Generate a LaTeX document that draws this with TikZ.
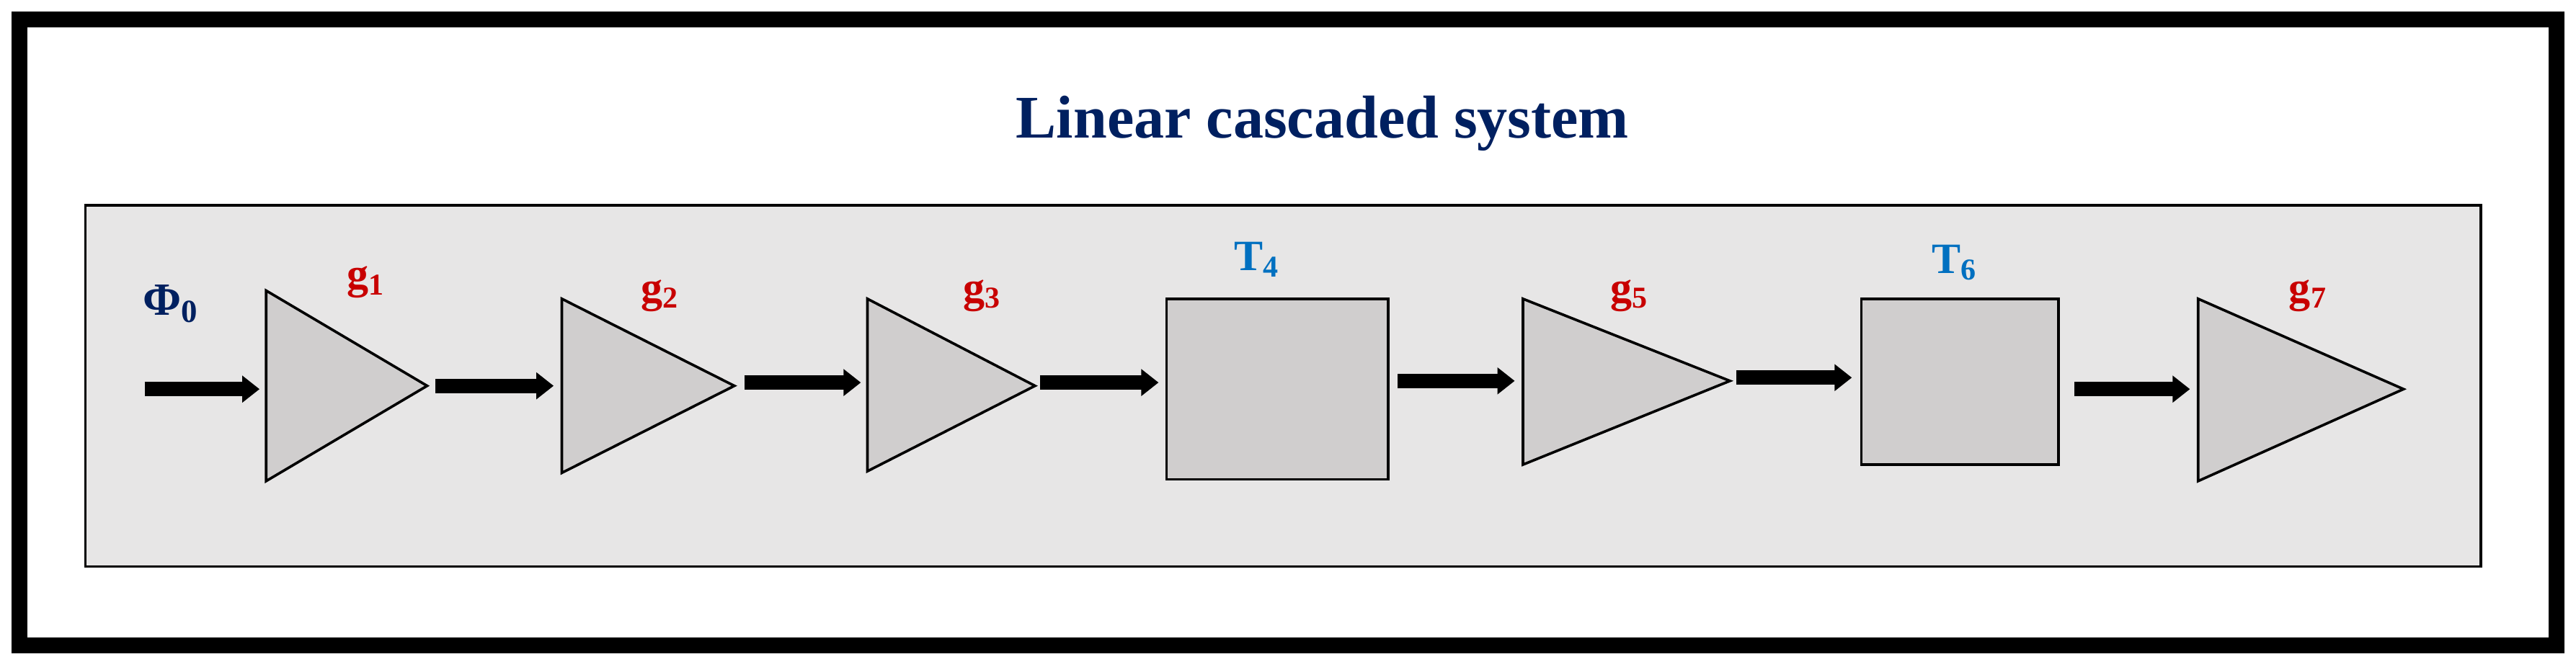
\documentclass[tikz,border=0pt]{standalone}
\usepackage{fontspec}
\setmainfont{Liberation Serif}
\usetikzlibrary{arrows.meta}
\definecolor{navy}{RGB}{0,32,96}
\definecolor{gred}{RGB}{200,0,0}
\definecolor{tblue}{RGB}{0,112,192}
\definecolor{bgray}{RGB}{231,230,230}
\definecolor{tgray}{RGB}{208,206,206}
\begin{document}
\begin{tikzpicture}[x=0.02cm,y=-0.02cm,
  amp/.style={fill=tgray,draw=black,line width=0.9pt,line join=miter},
  blk/.style={fill=tgray,draw=black,line width=0.9pt},
  flow/.style={line width=5pt,-{Triangle[length=6pt,width=9pt]}},
  glab/.style={text=gred,font=\bfseries\fontsize{15}{15}\selectfont,inner sep=0pt},
  tlab/.style={text=tblue,font=\bfseries\fontsize{15}{15}\selectfont,inner sep=0pt}]
\useasboundingbox (0,0) rectangle (1568,406);
\draw[line width=5.5pt] (12,12) rectangle (1556,393);
\draw[fill=bgray,line width=0.9pt] (52,125) rectangle (1510,345);
\node[text=navy,font=\bfseries\fontsize{21}{21}\selectfont] (title) at (805,75) {Linear cascaded system};
\node[text=navy,font=\bfseries\fontsize{16}{16}\selectfont,inner sep=0pt] (phi) at (104,185) {Φ\textsubscript{0}};
% amplifiers
\draw[amp] (162,177) -- (260,235) -- (162,293) -- cycle;
\draw[amp] (342,182) -- (447,235) -- (342,288) -- cycle;
\draw[amp] (528,182) -- (630,235) -- (528,287) -- cycle;
\draw[amp] (927,182) -- (1053,232) -- (927,283) -- cycle;
\draw[amp] (1338,182) -- (1463,237) -- (1338,293) -- cycle;
\coordinate (t1l) at (162,237); \coordinate (t1r) at (260,235);
\coordinate (t2l) at (342,235); \coordinate (t2r) at (447,235);
\coordinate (t3l) at (528,233); \coordinate (t3r) at (630,233);
\coordinate (t5l) at (927,232); \coordinate (t5r) at (1053,230);
\coordinate (t7l) at (1338,237);
\node[blk,minimum width=135*0.02cm,minimum height=110*0.02cm,inner sep=0pt] (T4) at (777.5,237) {};
\node[blk,minimum width=120*0.02cm,minimum height=101*0.02cm,inner sep=0pt] (T6) at (1193,232.5) {};
\node[glab] (g1) at (223,172) {g\textsubscript{1}};
\node[glab] (g2) at (402,180) {g\textsubscript{2}};
\node[glab] (g3) at (598,180) {g\textsubscript{3}};
\node[glab] (g5) at (992,180) {g\textsubscript{5}};
\node[glab] (g7) at (1405,180) {g\textsubscript{7}};
\node[tlab] (l4) at (765,158) {T\textsubscript{4}};
\node[tlab] (l6) at (1190,160) {T\textsubscript{6}};
\coordinate (in) at (88,237);
\draw[flow] (in) -- ([xshift=-4*0.02cm]t1l);
\draw[flow] ([xshift=5*0.02cm]t1r) -- ([xshift=-5*0.02cm]t2l);
\draw[flow] ([xshift=6*0.02cm]t2r|-t3l) -- ([xshift=-4*0.02cm]t3l);
\draw[flow] ([xshift=3*0.02cm]t3r) -- ([xshift=-4*0.02cm]T4.west|-t3r);
\draw[flow] ([xshift=5*0.02cm]T4.east|-t5l) -- ([xshift=-5*0.02cm]t5l);
\draw[flow] ([xshift=4*0.02cm]t5r) -- ([xshift=-5*0.02cm]T6.west|-t5r);
\draw[flow] ([xshift=9*0.02cm]T6.east|-t7l) -- ([xshift=-5*0.02cm]t7l);
\end{tikzpicture}
\end{document}
